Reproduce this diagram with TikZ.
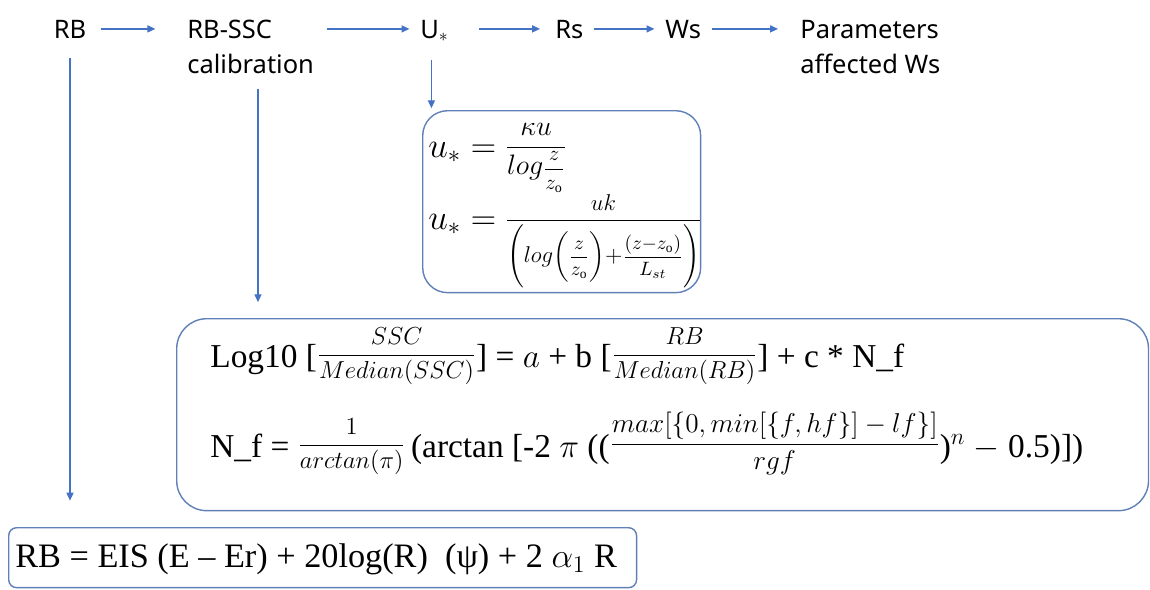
\RequirePackage{fix-cm}
\documentclass[tikz,border=0pt]{standalone}
\usepackage{amsmath}
\usepackage{fontspec}
\setmainfont{Liberation Serif}
\newfontfamily\flowfont{Noto Sans}
\usepackage{tikz}
\usetikzlibrary{positioning, arrows.meta, calc}

\definecolor{arrowblue}{RGB}{68,114,196}
\definecolor{frameblue}{RGB}{96,128,184}

\begin{document}
\begin{tikzpicture}[
    x=0.02cm, y=-0.02cm,
    stage/.style={font=\flowfont\fontsize{14.5}{20}\selectfont, inner sep=0pt, align=left},
    flow/.style={draw=arrowblue, line width=0.7pt, -{Triangle[length=4.5pt, width=4pt]}},
    eqframe/.style={draw=frameblue, line width=0.8pt, inner sep=0pt, anchor=north west},
    eqn/.style={inner sep=0pt, anchor=base west, font=\fontsize{19}{23}\selectfont}
  ]
  \useasboundingbox (0,0) rectangle (1150,589);

  % Processing chain along the top
  \node[stage, anchor=base] (rb) at (70,38) {RB};
  \node[stage, anchor=north west] (calib) at (187,20) {RB-SSC\\calibration};
  \node[stage, anchor=base west] (ustar) at (420,38) {U$_*$};
  \node[stage, anchor=base west] (rs) at (555,38) {Rs};
  \node[stage, anchor=base west] (ws) at (665,38) {Ws};
  \node[stage, anchor=north west] (params) at (800,20) {Parameters\\affected Ws};

  \draw[flow, shorten <=8pt, shorten >=18pt] (rb.east) -- (rb.east -| calib.west);
  \draw[flow, shorten <=7pt, shorten >=6pt] (calib.east |- rb.east) -- (ustar.west |- rb.east);
  \draw[flow, shorten <=17pt, shorten >=8.5pt] (ustar.east |- rb.east) -- (rs.west |- rb.east);
  \draw[flow, shorten <=6pt, shorten >=6pt] (rs.east |- rb.east) -- (ws.west |- rb.east);
  \draw[flow, shorten <=6pt, shorten >=12.5pt] (ws.east |- rb.east) -- (params.west |- rb.east);

  % Equation boxes
  \node[eqframe, rounded corners=0.5cm, minimum width=5.56cm, minimum height=3.64cm] (ubox) at (422,110) {};
  \node[eqframe, rounded corners=0.6cm, minimum width=19.44cm, minimum height=3.84cm] (calbox) at (176,318) {};
  \node[eqframe, rounded corners=0.16cm, minimum width=12.56cm, minimum height=1.2cm] (rbbox) at (8,527) {};

  % Drops into the boxes
  \coordinate (udrop) at ([xshift=6.5pt]ustar.south west);
  \coordinate (caldrop) at ([xshift=40.4pt]calib.south west);
  \draw[flow, shorten <=10pt, shorten >=1pt] (udrop) -- (udrop |- ubox.north);
  \draw[flow, shorten <=8.5pt, shorten >=9pt] (caldrop) -- (caldrop |- calbox.north);
  \draw[flow, shorten <=11pt, shorten >=15pt] (rb.south) -- (rb.south |- rbbox.north);

  % Friction velocity
  \node[eqn, font=\fontsize{20}{24}\selectfont] (ulog) at (428,157)
    {$u_* =$ \raisebox{1.5pt}{\fontsize{16}{18}\selectfont$\displaystyle\frac{\kappa u}{log\text{\fontsize{12}{14}\selectfont$\displaystyle\frac{z}{z_{\mathrm{o}}}$}}$}};
  \node[eqn, font=\fontsize{20}{24}\selectfont] (ustab) at (428,229)
    {$u_* =$ \raisebox{1.5pt}{\fontsize{13}{15}\selectfont$\displaystyle\frac{uk}{\left(\rule[-15pt]{0pt}{37pt}log\!\left(\text{\fontsize{11}{13}\selectfont$\displaystyle\frac{z}{z_{\mathrm{o}}}$}\right)\!{+}\text{\fontsize{11}{13}\selectfont$\displaystyle\frac{(z{-}z_{\mathrm{o}})}{L_{st}}$}\right)}$}};

  % Calibration
  \node[eqn] (calreg) at (210,367)
    {Log10 [\raisebox{3.3pt}{\fontsize{14}{16}\selectfont$\displaystyle\frac{SSC}{Median(SSC)}$}] = $a$ + b [\raisebox{3.3pt}{\fontsize{14}{16}\selectfont$\displaystyle\frac{RB}{Median(RB)}$}] + c * N\_f};
  \node[eqn] (calnf) at (210,457)
    {N\_f = \raisebox{3.3pt}{\fontsize{14}{16}\selectfont$\displaystyle\frac{1}{arctan(\pi)}$}\,(arctan [-2 $\pi$ ((\raisebox{3.3pt}{\fontsize{15.5}{17}\selectfont$\displaystyle\frac{max[\{0,min[\{f,hf\}]-lf\}]}{rgf}$})$^{n}$ $-$ 0.5)])};

  % Backscatter
  \node[eqn, font=\fontsize{19.5}{23}\selectfont] (rbeq) at (15,567)
    {RB = EIS (E \textendash{} Er) + 20log(R)~ (ψ) + 2 $\alpha_1$ R};
\end{tikzpicture}
\end{document}
